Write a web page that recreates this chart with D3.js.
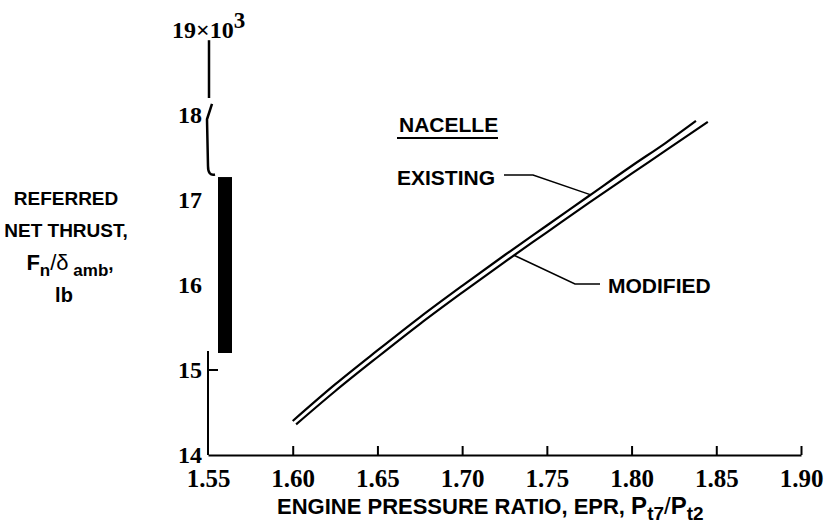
<!DOCTYPE html>
<html>
<head>
<meta charset="utf-8">
<title>Referred net thrust vs engine pressure ratio</title>
<script src="https://cdnjs.cloudflare.com/ajax/libs/d3/7.8.5/d3.min.js"></script>
<style>
  body { margin: 0; background: #fff; }
  .num { font-family: "Liberation Serif", "Times New Roman", serif; font-weight: bold; fill: #000; }
  .lab { font-family: "Liberation Sans", Arial, sans-serif; font-weight: bold; fill: #000; }
  .axis path, .axis line { stroke: #000; stroke-width: 2; }
</style>
</head>
<body>
<div id="chart"></div>
<script>
  // values
  var xTicks = [1.55, 1.60, 1.65, 1.70, 1.75, 1.80, 1.85, 1.90];
  var yTicks = [14, 15, 16, 17, 18, 19];
  var eprExisting    = [1.600, 1.625, 1.650, 1.675, 1.700, 1.725, 1.750, 1.775, 1.800, 1.820, 1.838];
  var thrustExisting = [14.40, 14.83, 15.23, 15.62, 15.99, 16.35, 16.70, 17.05, 17.40, 17.67, 17.93];
  var eprModified    = [1.602, 1.625, 1.650, 1.675, 1.700, 1.725, 1.750, 1.775, 1.800, 1.820, 1.845];
  var thrustModified = [14.36, 14.75, 15.15, 15.54, 15.91, 16.27, 16.62, 16.97, 17.31, 17.58, 17.92];
  // where the leader lines touch the curves
  var leaderExisting = {epr: 1.776, thrust: 17.06};
  var leaderModified = {epr: 1.7306, thrust: 16.35};

  var width = 832, height = 528;
  var svg = d3.select("#chart").append("svg").attr("width", width).attr("height", height);

  var x = d3.scaleLinear().domain([1.55, 1.90]).range([208, 801]);
  var y = d3.scaleLinear().domain([14, 19]).range([455, 30]);

  // x axis, ticks pointing up
  var xAxis = d3.axisBottom(x).tickValues(xTicks).tickSizeInner(-9).tickSizeOuter(0)
                .tickPadding(14).tickFormat(d3.format(".2f"));
  var gx = svg.append("g").attr("class", "axis").attr("transform", "translate(0," + y(14) + ")").call(xAxis);
  gx.selectAll("text").attr("class", "num").style("font-size", "25px").attr("font-family", null);
  gx.selectAll(".tick").filter(function(d){ return d === 1.55; }).select("line").remove();

  // y axis labels only; the axis line itself is broken and drawn by hand
  var yAxis = d3.axisLeft(y).tickValues(yTicks).tickSize(0).tickPadding(6).tickFormat(d3.format("d"));
  var gy = svg.append("g").attr("class", "axis").attr("transform", "translate(" + x(1.55) + ",0)").call(yAxis);
  gy.select(".domain").remove();
  gy.selectAll("text").attr("class", "num").style("font-size", "24px").attr("font-family", null);
  gy.selectAll(".tick").filter(function(d){ return d === 19; }).select("text")
    .attr("text-anchor", "start").attr("x", -36)
    .text("19×10")
    .append("tspan").attr("dy", "-0.45em").style("font-size", "23px").text("3");

  var x0 = x(1.55);
  // lower solid part of y axis with tick at 15
  svg.append("path").attr("fill", "none").attr("stroke", "#000").attr("stroke-width", 2)
     .attr("d", "M" + x0 + "," + y(14) + "V" + (y(15.2) - 2) + "M" + x0 + "," + y(15) + "h10");
  // black bar across the break
  svg.append("rect").attr("x", x0 + 10).attr("y", y(17.27)).attr("width", 14)
     .attr("height", y(15.2) - y(17.27)).attr("fill", "#000");
  // upper part with the hand-drawn break
  svg.append("path").attr("fill", "none").attr("stroke", "#000").attr("stroke-width", 2.5)
     .attr("d", "M" + (x0 + 1) + "," + y(18.88) + "V" + y(18.2));
  svg.append("path").attr("fill", "none").attr("stroke", "#000").attr("stroke-width", 2.5)
     .attr("d", "M" + (x0 + 4) + "," + y(18.13) + "L" + (x0 - 1) + "," + y(17.95) +
                "L" + x0 + "," + y(17.4) + "Q" + x0 + "," + y(17.28) + " " + (x0 + 7) + "," + y(17.3));

  // curves
  var line = d3.line().x(function(d){ return x(d[0]); }).y(function(d){ return y(d[1]); }).curve(d3.curveMonotoneX);
  var existing = d3.zip(eprExisting, thrustExisting);
  var modified = d3.zip(eprModified, thrustModified);
  [existing, modified].forEach(function(s){
    svg.append("path").datum(s).attr("d", line).attr("fill", "none")
       .attr("stroke", "#000").attr("stroke-width", 2.2);
  });

  // legend block
  svg.append("text").attr("class", "lab").attr("x", 399).attr("y", 132).style("font-size", "21px").text("NACELLE");
  svg.append("line").attr("x1", 397).attr("x2", 498).attr("y1", 138).attr("y2", 138)
     .attr("stroke", "#000").attr("stroke-width", 2);
  svg.append("text").attr("class", "lab").attr("x", 397).attr("y", 185).style("font-size", "21px").text("EXISTING");
  svg.append("text").attr("class", "lab").attr("x", 608).attr("y", 293).style("font-size", "21px").text("MODIFIED");

  var leader = d3.line();
  svg.append("path").attr("fill", "none").attr("stroke", "#000").attr("stroke-width", 1.5)
     .attr("d", leader([[504, 175], [533, 175], [x(leaderExisting.epr), y(leaderExisting.thrust)]]));
  svg.append("path").attr("fill", "none").attr("stroke", "#000").attr("stroke-width", 1.5)
     .attr("d", leader([[600, 284], [575, 284], [x(leaderModified.epr), y(leaderModified.thrust)]]));

  // x axis title
  var xt = svg.append("text").attr("class", "lab").attr("x", 277).attr("y", 514).style("font-size", "22px");
  xt.append("tspan").text("ENGINE PRESSURE RATIO, EPR, ");
  xt.append("tspan").style("font-size", "24px").text("P");
  xt.append("tspan").attr("dy", 6).style("font-size", "19px").text("t7");
  xt.append("tspan").attr("dy", -6).style("font-size", "24px").style("font-weight", "normal").text("/");
  xt.append("tspan").style("font-size", "24px").text("P");
  xt.append("tspan").attr("dy", 6).style("font-size", "19px").text("t2");

  // y axis title
  var yt = svg.append("g").attr("class", "lab").style("font-size", "19px").attr("text-anchor", "middle");
  yt.append("text").attr("x", 66).attr("y", 205).text("REFERRED");
  yt.append("text").attr("x", 66).attr("y", 237).text("NET THRUST,");
  var fn = yt.append("text").attr("x", 70).attr("y", 270);
  fn.append("tspan").style("font-size", "22px").text("F");
  fn.append("tspan").attr("dy", 6).style("font-size", "17px").text("n");
  fn.append("tspan").attr("dy", -6).style("font-size", "22px").style("font-weight", "normal").text("/δ");
  fn.append("tspan").attr("dy", 6).style("font-size", "17px").text(" amb");
  fn.append("tspan").attr("dy", -6).text(",");
  yt.append("text").attr("x", 64).attr("y", 302).style("font-size", "20px").text("lb");
</script>
</body>
</html>
